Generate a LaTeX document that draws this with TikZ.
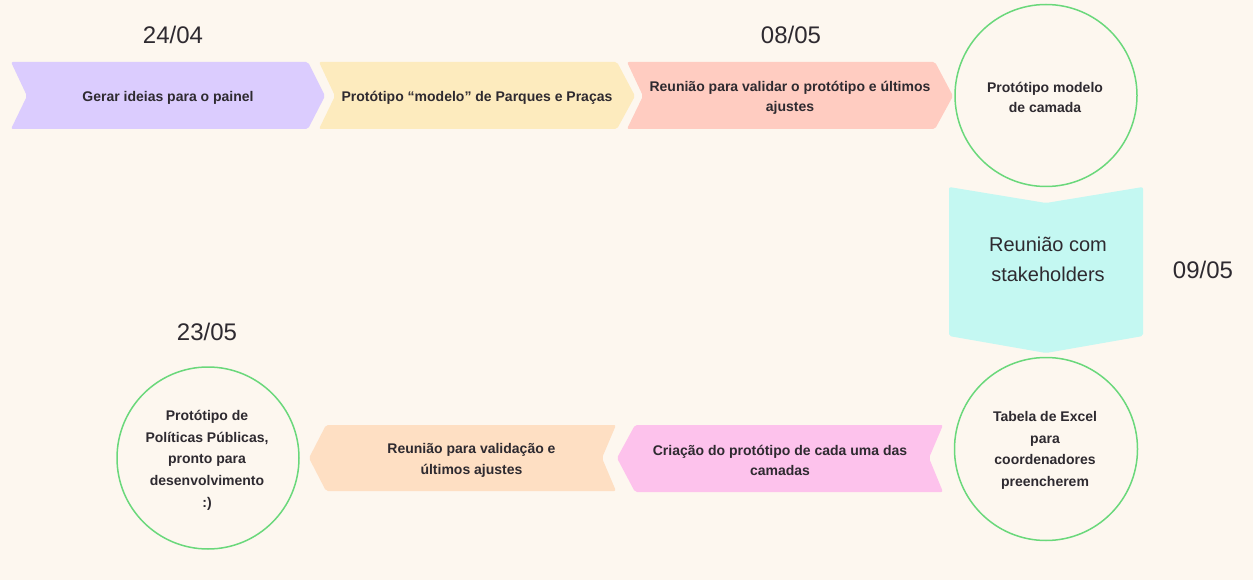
\documentclass[tikz,border=0pt]{standalone}
\usepackage{fontspec}
\setmainfont{Liberation Sans}
\definecolor{bg}{HTML}{FDF7EF}
\definecolor{cpurple}{HTML}{DBCCFE}
\definecolor{cyellow}{HTML}{FDEBBE}
\definecolor{csalmon}{HTML}{FFCCC1}
\definecolor{ccyan}{HTML}{C4F8F2}
\definecolor{cpink}{HTML}{FDC2EC}
\definecolor{cpeach}{HTML}{FEDFC3}
\definecolor{cgreen}{HTML}{6AD87B}
\definecolor{ctext}{HTML}{2E2A30}
\tikzset{
  chev/.style={rounded corners=2pt, draw=none},
  ring/.style={draw=cgreen, line width=1.5pt, fill=none},
  lbl/.style={text=ctext, align=center, font=\bfseries\fontsize{14}{20.5}\selectfont, inner sep=0pt, yshift=-1.8pt},
  datelbl/.style={text=ctext, font=\fontsize{24}{28}\selectfont, inner sep=0pt},
}
\begin{document}
\begin{tikzpicture}[x=1pt,y=-1pt]
\fill[bg] (0,0) rectangle (1253,580);
\useasboundingbox (0,0) rectangle (1253,580);
% top row chevrons
\fill[cpurple,chev] (11,62) -- (308,62) -- (325,96) -- (308,129) -- (11,129) -- (27,96) -- cycle;
\fill[cyellow,chev] (319,62) -- (617,62) -- (635,96) -- (617,129) -- (319,129) -- (335,96) -- cycle;
\fill[csalmon,chev] (627,62) -- (935,62) -- (953,96) -- (935,129) -- (627,129) -- (643,96) -- cycle;
% vertical chevron
\fill[ccyan,chev] (949,187) -- (1046,203) -- (1143,187) -- (1143,336) -- (1046,353) -- (949,336) -- cycle;
% bottom row chevrons
\fill[cpink,chev] (635,425) -- (943,425) -- (929,458) -- (943,492) -- (635,492) -- (617,458) -- cycle;
\fill[cpeach,chev] (326,425) -- (616,425) -- (602,458) -- (616,491) -- (326,491) -- (309,458) -- cycle;
% circles
\draw[ring] (1046,95.5) circle (91);
\draw[ring] (1046,449) circle (91.5);
\draw[ring] (208,458) circle (91);
% texts
\node[lbl] (t1) at (168,96) {Gerar ideias para o painel};
\node[lbl] (t2) at (477,96) {Protótipo “modelo” de Parques e Praças};
\node[lbl] (t3) at (790,96) {Reunião para validar o protótipo e últimos\\ajustes};
\node[lbl] (c1) at (1045,95.5) {Protótipo modelo\\de camada};
\node[text=ctext, align=center, font=\fontsize{20}{30}\selectfont, inner sep=0pt] (s1) at (1048,259) {Reunião com\\stakeholders};
\node[lbl, font=\bfseries\fontsize{14}{21.5}\selectfont] (c2) at (1045,448.5) {Tabela de Excel\\para\\coordenadores\\preencherem};
\node[lbl] (b1) at (780,458.5) {Criação do protótipo de cada uma das\\camadas};
\node[lbl] (b2) at (471.5,458.5) {Reunião para validação e\\últimos ajustes};
\node[lbl, font=\bfseries\fontsize{14}{21.7}\selectfont] (c3) at (207,458.5) {Protótipo de\\Políticas Públicas,\\pronto para\\desenvolvimento\\:)};
% dates
\node[datelbl] (d1) at (173,35) {24/04};
\node[datelbl] (d2) at (791,35) {08/05};
\node[datelbl] (d3) at (1203,270) {09/05};
\node[datelbl] (d4) at (207,332) {23/05};
\end{tikzpicture}
\end{document}
